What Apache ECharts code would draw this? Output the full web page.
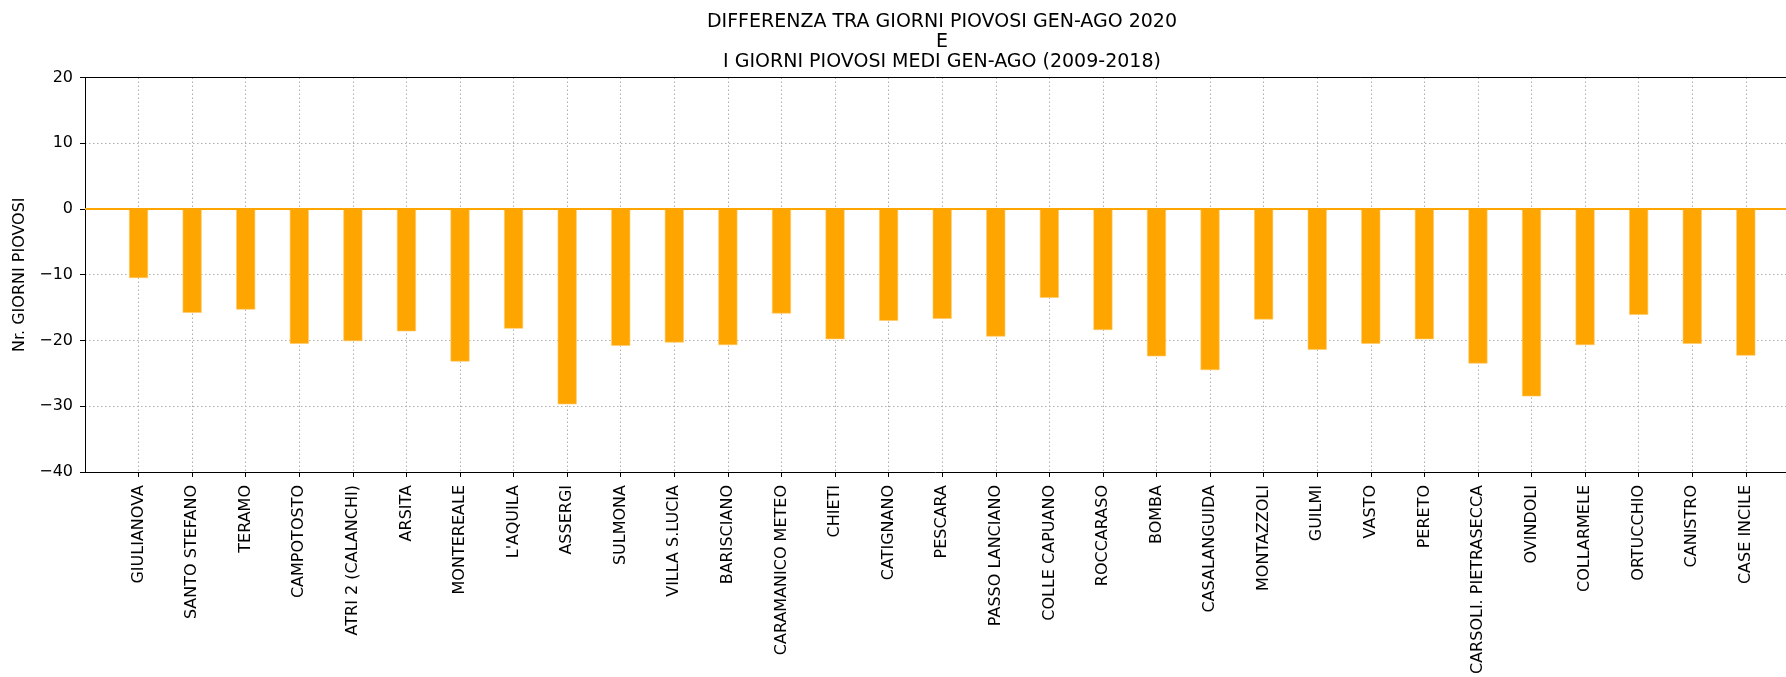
<!DOCTYPE html>
<html>
<head>
<meta charset="utf-8">
<script src="https://cdn.jsdelivr.net/npm/echarts@6/dist/echarts.min.js"></script>
<style>
  html, body { margin: 0; padding: 0; background: #fff; }
  #chart { width: 1786px; height: 677px; }
</style>
</head>
<body>
<div id="chart"></div>
<script>
(function() {
  // stazioni (ordine come nel grafico)
  var stazioni = [
    "GIULIANOVA", "SANTO STEFANO", "TERAMO", "CAMPOTOSTO", "ATRI 2 (CALANCHI)",
    "ARSITA", "MONTEREALE", "L'AQUILA", "ASSERGI", "SULMONA",
    "VILLA S.LUCIA", "BARISCIANO", "CARAMANICO METEO", "CHIETI", "CATIGNANO",
    "PESCARA", "PASSO LANCIANO", "COLLE CAPUANO", "ROCCARASO", "BOMBA",
    "CASALANGUIDA", "MONTAZZOLI", "GUILMI", "VASTO", "PERETO",
    "CARSOLI. PIETRASECCA", "OVINDOLI", "COLLARMELE", "ORTUCCHIO", "CANISTRO",
    "CASE INCILE"
  ];
  // differenza giorni piovosi 2020 - media 2009-2018
  var differenza = [
    -10.5, -15.8, -15.3, -20.5, -20.1,
    -18.6, -23.2, -18.2, -29.7, -20.8,
    -20.3, -20.7, -15.9, -19.8, -17.0,
    -16.7, -19.4, -13.5, -18.4, -22.4,
    -24.5, -16.8, -21.4, -20.5, -19.8,
    -23.5, -28.5, -20.7, -16.1, -20.5,
    -22.3
  ];
  var yTicks = [-40, -30, -20, -10, 0, 10, 20];

  var font = "DejaVu Sans";
  var posizioni = stazioni.map(function(s, i) { return i; });
  var barData = differenza.map(function(v, i) { return [i, v]; });
  var gridLine = { show: true, lineStyle: { color: "#b0b0b0", type: [1.5, 2.5], width: 1 } };

  var myChart = echarts.init(document.getElementById("chart"), null, { renderer: "canvas" });

  var option = {
    animation: false,
    backgroundColor: "#ffffff",
    graphic: [{
      type: "text",
      x: 942,
      y: 12,
      style: {
        text: "DIFFERENZA TRA GIORNI PIOVOSI GEN-AGO 2020\nE\nI GIORNI PIOVOSI MEDI GEN-AGO (2009-2018)",
        textAlign: "center",
        fontFamily: font,
        fontSize: 19,
        lineHeight: 20,
        fill: "#000"
      }
    }],
    grid: {
      left: 85,
      top: 77.5,
      right: 0,
      bottom: 203
    },
    xAxis: [{
      type: "value",
      min: -1,
      max: 30.75,
      interval: 1,
      axisLine: { show: true, onZero: false, lineStyle: { color: "#000", width: 1 } },
      axisTick: {
        show: true,
        length: 5,
        customValues: posizioni,
        lineStyle: { color: "#000" }
      },
      axisLabel: {
        rotate: 90,
        margin: 13,
        fontFamily: font,
        fontSize: 16,
        color: "#000",
        customValues: posizioni,
        formatter: function(v) { return stazioni[v] || ""; }
      },
      splitLine: gridLine
    }, {
      // bordo superiore
      type: "value",
      position: "top",
      min: -1,
      max: 30.75,
      axisLine: { show: true, onZero: false, lineStyle: { color: "#000", width: 1 } },
      axisTick: { show: false },
      axisLabel: { show: false },
      splitLine: { show: false }
    }],
    yAxis: {
      type: "value",
      min: yTicks[0],
      max: yTicks[yTicks.length - 1],
      interval: 10,
      name: "Nr. GIORNI PIOVOSI",
      nameLocation: "middle",
      nameGap: 56,
      nameTextStyle: { fontFamily: font, fontSize: 16, color: "#000" },
      axisLine: { show: true, onZero: false, lineStyle: { color: "#000", width: 1 } },
      axisTick: { show: true, length: 5, lineStyle: { color: "#000" } },
      axisLabel: {
        margin: 12,
        fontFamily: font,
        fontSize: 16,
        color: "#000",
        formatter: function(v) { return v < 0 ? "\u2212" + Math.abs(v) : String(v); }
      },
      splitLine: gridLine
    },
    series: [{
      type: "bar",
      data: barData,
      barWidth: 19,
      itemStyle: { color: "#FFA500", borderColor: "#ffc966", borderWidth: 0.6 },
      markLine: {
        silent: true,
        symbol: "none",
        label: { show: false },
        lineStyle: { color: "#FFA500", type: "solid", width: 2 },
        data: [{ yAxis: 0 }]
      }
    }]
  };

  myChart.setOption(option);
  window.addEventListener("resize", function() {
    myChart.resize();
  });
})();
</script>
</body>
</html>
